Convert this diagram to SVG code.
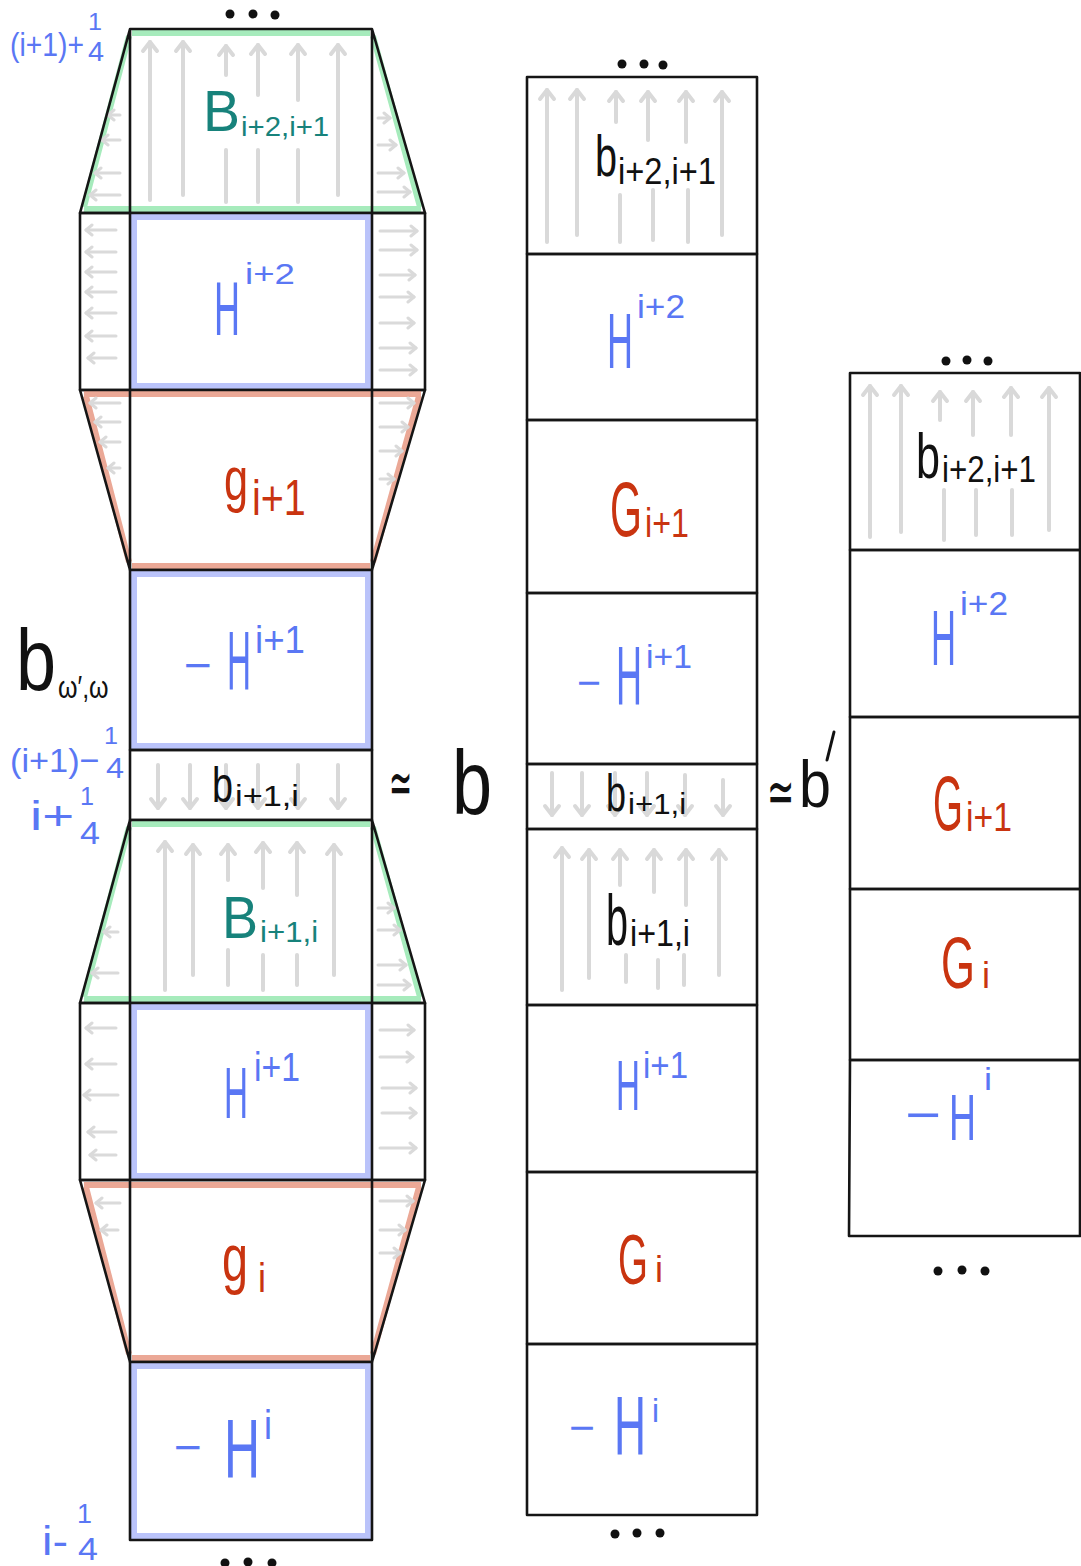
<svg xmlns="http://www.w3.org/2000/svg" width="1081" height="1566" viewBox="0 0 1081 1566">
<defs>
<style>
.ln{stroke:#151515;stroke-width:2.6;fill:none;stroke-linejoin:round}
.gr{stroke:#a6ebbc;stroke-width:6;fill:none}
.bl{stroke:#bac3fa;stroke-width:6;fill:none}
.rd{stroke:#eba896;stroke-width:6;fill:none}
.ar{stroke:#d9d9d9;stroke-width:4;stroke-linecap:round;fill:none;marker-end:url(#ah)}
.sg{stroke:#d9d9d9;stroke-width:4;stroke-linecap:round;fill:none}
.sa{stroke:#dadada;stroke-width:3;stroke-linecap:round;fill:none;marker-end:url(#sh)}
.t{font-family:"Liberation Sans","DejaVu Sans",sans-serif}
.dj{font-family:"DejaVu Sans",sans-serif}
.teal{fill:#17827b}
.blue{fill:#5a77f4}
.red{fill:#c93410}
.blk{fill:#111}
.dot{fill:#111}
</style>
<marker id="ah" markerUnits="userSpaceOnUse" markerWidth="24" markerHeight="24" viewBox="-12 -12 24 24" refX="0" refY="0" orient="auto">
<path d="M-9,-7 L0,0 L-9,7" stroke="#d9d9d9" stroke-width="4" fill="none" stroke-linecap="round" stroke-linejoin="round"/>
</marker>
<marker id="sh" markerUnits="userSpaceOnUse" markerWidth="16" markerHeight="16" viewBox="-8 -8 16 16" refX="0" refY="0" orient="auto">
<path d="M-6,-5 L0,0 L-6,5" stroke="#dadada" stroke-width="3" fill="none" stroke-linecap="round" stroke-linejoin="round"/>
</marker>
</defs>
<rect width="1081" height="1566" fill="#fff"/>

<!-- ===== LEFT COLUMN ===== -->
<g id="L-B-i2i1">
<path class="gr" d="M132,33 H370 M84,209 H421 M129,36 L84,207 M373,36 L420,207"/>
<path class="ar" d="M150,200 V42"/><path class="ar" d="M183,195 V42"/>
<path class="ar" d="M226,75 V46"/><path class="sg" d="M226,150 V202"/>
<path class="ar" d="M258,95 V45"/><path class="sg" d="M258,150 V202"/>
<path class="ar" d="M298,100 V45"/><path class="sg" d="M298,150 V202"/>
<path class="ar" d="M338,195 V45"/>
<path class="sa" d="M120,115 H108"/><path class="sa" d="M120,140 H102"/><path class="sa" d="M120,173 H95"/><path class="sa" d="M120,195 H90"/>
<path class="sa" d="M378,118 H390"/><path class="sa" d="M378,145 H396"/><path class="sa" d="M378,173 H404"/><path class="sa" d="M378,192 H410"/>
<path class="ln" d="M130,29 H372 L425,213 H80 Z M130,29 V213 M372,29 V213"/>
<text class="t teal" font-size="58" transform="translate(203,131) scale(0.956,1)">B</text>
<text class="t teal" font-size="28" transform="translate(241,136) scale(1.05,1)">i+2,i+1</text>
</g>

<g id="L-H-i2">
<path class="sa" d="M116,230 H86"/><path class="sa" d="M116,252 H86"/><path class="sa" d="M116,272 H86"/><path class="sa" d="M116,292 H86"/><path class="sa" d="M116,313 H86"/><path class="sa" d="M116,336 H86"/><path class="sa" d="M116,358 H88"/>
<path class="sa" d="M380,231 H417"/><path class="sa" d="M380,250 H417"/><path class="sa" d="M380,275 H415"/><path class="sa" d="M380,297 H414"/><path class="sa" d="M380,323 H414"/><path class="sa" d="M380,348 H416"/><path class="sa" d="M380,370 H416"/>
<rect class="bl" x="134" y="217" width="234" height="169"/>
<path class="ln" d="M80,213 H425 V390 H80 Z M130,213 V390 M372,213 V390"/>
<text class="t blue" font-size="76" transform="translate(214,335) scale(0.474,1)">H</text>
<text class="t blue" font-size="30" transform="translate(245,284) scale(1.22,1)">i+2</text>
</g>

<g id="L-g-i1">
<path class="rd" d="M84,394 H421 M132,566 H370 M86,396 L129,562 M419,396 L373,562"/>
<path class="sa" d="M120,403 H90"/><path class="sa" d="M120,422 H95"/><path class="sa" d="M120,442 H100"/><path class="sa" d="M120,468 H108"/>
<path class="sa" d="M380,403 H414"/><path class="sa" d="M380,427 H408"/><path class="sa" d="M380,451 H402"/><path class="sa" d="M380,479 H394"/>
<path class="ln" d="M80,390 H425 L372,570 H130 Z M130,390 V570 M372,390 V570"/>
<text class="t red" font-size="62" transform="translate(224,500) scale(0.70,1)">g</text>
<text class="t red" font-size="50" transform="translate(252,515) scale(0.79,1)">i+1</text>
</g>

<g id="L-mH-i1">
<rect class="bl" x="134" y="574" width="234" height="172"/>
<path class="ln" d="M130,570 H372 V750 H130 Z"/>
<text class="t blue" font-size="46" transform="translate(184,681) scale(1.04,1)">−</text>
<text class="t blue" font-size="84" transform="translate(227,690) scale(0.396,1)">H</text>
<text class="t blue" font-size="38" transform="translate(255,653) scale(0.965,1)">i+1</text>
</g>

<g id="L-b-i1i">
<path class="ar" d="M158,765 V808"/><path class="ar" d="M190,765 V808"/><path class="ar" d="M226,765 V808"/><path class="ar" d="M258,765 V808"/><path class="ar" d="M298,765 V808"/><path class="ar" d="M338,765 V808"/>
<path class="ln" d="M130,750 H372 V820 H130 Z"/>
<text class="t blk" font-size="50" transform="translate(212,802) scale(0.755,1)">b</text>
<text class="t blk" font-size="30" transform="translate(235,806) scale(1.145,1)">i+1,i</text>
</g>

<g id="L-B-i1i">
<path class="gr" d="M132,824 H370 M84,999 H421 M129,827 L84,997 M373,827 L420,997"/>
<path class="ar" d="M165,990 V842"/><path class="ar" d="M193,975 V845"/>
<path class="ar" d="M228,880 V845"/><path class="sg" d="M228,950 V985"/>
<path class="ar" d="M263,888 V843"/><path class="sg" d="M263,955 V990"/>
<path class="ar" d="M297,895 V843"/><path class="sg" d="M297,955 V985"/>
<path class="ar" d="M334,975 V845"/>
<path class="sa" d="M118,932 H104"/><path class="sa" d="M118,973 H92"/>
<path class="sa" d="M378,908 H394"/><path class="sa" d="M378,930 H400"/><path class="sa" d="M378,965 H406"/><path class="sa" d="M378,985 H410"/>
<path class="ln" d="M130,820 H372 L425,1003 H80 Z M130,820 V1003 M372,820 V1003"/>
<text class="t teal" font-size="60" transform="translate(222,938) scale(0.9,1)">B</text>
<text class="t teal" font-size="30" transform="translate(260,942) scale(1.04,1)">i+1,i</text>
</g>

<g id="L-H-i1">
<path class="sa" d="M116,1028 H86"/><path class="sa" d="M116,1064 H86"/><path class="sa" d="M118,1095 H84"/><path class="sa" d="M116,1132 H88"/><path class="sa" d="M116,1155 H90"/>
<path class="sa" d="M380,1030 H414"/><path class="sa" d="M380,1057 H413"/><path class="sa" d="M382,1088 H416"/><path class="sa" d="M382,1113 H416"/><path class="sa" d="M380,1148 H416"/>
<rect class="bl" x="134" y="1007" width="234" height="169"/>
<path class="ln" d="M80,1003 H425 V1180 H80 Z M130,1003 V1180 M372,1003 V1180"/>
<text class="t blue" font-size="72" transform="translate(224,1118) scale(0.462,1)">H</text>
<text class="t blue" font-size="40" transform="translate(254,1081) scale(0.844,1)">i+1</text>
</g>

<g id="L-g-i">
<path class="rd" d="M84,1185 H421 M132,1358 H370 M86,1187 L129,1354 M419,1187 L373,1354"/>
<path class="sa" d="M120,1203 H96"/><path class="sa" d="M118,1230 H101"/>
<path class="sa" d="M380,1201 H413"/><path class="sa" d="M380,1230 H405"/><path class="sa" d="M380,1253 H400"/>
<path class="ln" d="M80,1180 H425 L372,1362 H130 Z M130,1180 V1362 M372,1180 V1362"/>
<text class="t red" font-size="66" transform="translate(222,1281) scale(0.708,1)">g</text>
<text class="t red" font-size="40" transform="translate(258,1292) scale(0.9,1)">i</text>
</g>

<g id="L-mH-i">
<rect class="bl" x="134" y="1366" width="234" height="170"/>
<path class="ln" d="M130,1362 H372 V1540 H130 Z"/>
<text class="t blue" font-size="46" transform="translate(174,1463) scale(1.04,1)">−</text>
<text class="t blue" font-size="84" transform="translate(224,1478) scale(0.594,1)">H</text>
<text class="t blue" font-size="40" transform="translate(264,1439) scale(0.9,1)">i</text>
</g>

<g id="L-dots">
<circle class="dot" cx="230" cy="14" r="4.5"/><circle class="dot" cx="253" cy="14" r="4.5"/><circle class="dot" cx="275" cy="15" r="4.5"/>
<circle class="dot" cx="225" cy="1563" r="4.5"/><circle class="dot" cx="248" cy="1562" r="4.5"/><circle class="dot" cx="272" cy="1563" r="4.5"/>
</g>

<g id="L-labels">
<text class="t blue" font-size="34" transform="translate(10,56) scale(0.833,1)">(i+1)+</text>
<text class="t blue" font-size="24" transform="translate(88,30) scale(1.05,1)">1</text>
<text class="t blue" font-size="28" transform="translate(88,61) scale(1.03,1)">4</text>
<text class="t blk" font-size="88" transform="translate(16,690) scale(0.818,1)">b</text>
<text class="t blk" font-size="32" transform="translate(58,698) scale(0.78,1)">ω′,ω</text>
<text class="t blue" font-size="34" transform="translate(10,772) scale(1.01,1)">(i+1)−</text>
<text class="t blue" font-size="24" transform="translate(104,744) scale(1.05,1)">1</text>
<text class="t blue" font-size="30" transform="translate(106,778) scale(1.08,1)">4</text>
<text class="t blue" font-size="40" transform="translate(30,830) scale(1.365,1)">i+</text>
<text class="t blue" font-size="26" transform="translate(80,805) scale(0.97,1)">1</text>
<text class="t blue" font-size="32" transform="translate(80,844) scale(1.12,1)">4</text>
<text class="t blue" font-size="40" transform="translate(42,1555) scale(1.17,1)">i-</text>
<text class="t blue" font-size="28" transform="translate(77,1523) scale(0.96,1)">1</text>
<text class="t blue" font-size="32" transform="translate(78,1560) scale(1.12,1)">4</text>
<text class="dj blk" font-size="62" transform="translate(389,804) scale(0.45,1)">≃</text>
<text class="t blk" font-size="90" transform="translate(452,814) scale(0.8,1)">b</text>
</g>

<!-- ===== MIDDLE COLUMN ===== -->
<g id="M-b-i2i1">
<path class="ar" d="M547,242 V90"/><path class="ar" d="M577,235 V90"/>
<path class="ar" d="M616,122 V92"/><path class="sg" d="M620,195 V242"/>
<path class="ar" d="M648,140 V92"/><path class="sg" d="M653,190 V240"/>
<path class="ar" d="M686,142 V92"/><path class="sg" d="M688,190 V242"/>
<path class="ar" d="M722,235 V92"/>
<path class="ln" d="M527,77 H757 V254 H527 Z"/>
<text class="t blk" font-size="58" transform="translate(595,176) scale(0.683,1)">b</text>
<text class="t blk" font-size="36" transform="translate(618,184) scale(0.907,1)">i+2,i+1</text>
</g>
<g id="M-H-i2">
<path class="ln" d="M527,254 H757 V420 H527 Z"/>
<text class="t blue" font-size="78" transform="translate(607,368) scale(0.462,1)">H</text>
<text class="t blue" font-size="34" transform="translate(637,318) scale(1.037,1)">i+2</text>
</g>
<g id="M-G-i1">
<path class="ln" d="M527,420 H757 V593 H527 Z"/>
<text class="t red" font-size="78" transform="translate(610,536) scale(0.527,1)">G</text>
<text class="t red" font-size="40" transform="translate(645,537) scale(0.807,1)">i+1</text>
</g>
<g id="M-mH-i1">
<path class="ln" d="M527,593 H757 V764 H527 Z"/>
<text class="t blue" font-size="42" transform="translate(577,697) scale(0.98,1)">−</text>
<text class="t blue" font-size="84" transform="translate(616,705) scale(0.429,1)">H</text>
<text class="t blue" font-size="34" transform="translate(646,668) scale(0.993,1)">i+1</text>
</g>
<g id="M-b-i1i-s">
<path class="ar" d="M552,773 V815"/><path class="ar" d="M582,773 V815"/><path class="ar" d="M615,773 V815"/><path class="ar" d="M647,773 V815"/><path class="ar" d="M685,775 V815"/><path class="ar" d="M723,780 V815"/>
<path class="ln" d="M527,764 H757 V829 H527 Z"/>
<text class="t blk" font-size="52" transform="translate(606,811) scale(0.692,1)">b</text>
<text class="t blk" font-size="30" transform="translate(628,814) scale(1.04,1)">i+1,i</text>
</g>
<g id="M-b-i1i">
<path class="ar" d="M562,990 V848"/><path class="ar" d="M589,978 V850"/>
<path class="ar" d="M620,885 V850"/><path class="sg" d="M626,955 V982"/>
<path class="ar" d="M654,892 V850"/><path class="sg" d="M658,960 V988"/>
<path class="ar" d="M686,905 V850"/><path class="sg" d="M684,955 V985"/>
<path class="ar" d="M719,975 V850"/>
<path class="ln" d="M527,829 H757 V1005 H527 Z"/>
<text class="t blk" font-size="72" transform="translate(606,945) scale(0.55,1)">b</text>
<text class="t blk" font-size="36" transform="translate(630,946) scale(0.895,1)">i+1,i</text>
</g>
<g id="M-H-i1">
<path class="ln" d="M527,1005 H757 V1172 H527 Z"/>
<text class="t blue" font-size="70" transform="translate(616,1110) scale(0.475,1)">H</text>
<text class="t blue" font-size="36" transform="translate(643,1078) scale(0.918,1)">i+1</text>
</g>
<g id="M-G-i">
<path class="ln" d="M527,1172 H757 V1344 H527 Z"/>
<text class="t red" font-size="70" transform="translate(618,1284) scale(0.55,1)">G</text>
<text class="t red" font-size="36" transform="translate(655,1282)">i</text>
</g>
<g id="M-mH-i">
<path class="ln" d="M527,1344 H757 V1515 H527 Z"/>
<text class="t blue" font-size="42" transform="translate(569,1442) scale(1.06,1)">−</text>
<text class="t blue" font-size="84" transform="translate(614,1455) scale(0.528,1)">H</text>
<text class="t blue" font-size="34" transform="translate(652,1422) scale(0.93,1)">i</text>
</g>
<g id="M-dots">
<circle class="dot" cx="622" cy="64" r="4.5"/><circle class="dot" cx="644" cy="64" r="4.5"/><circle class="dot" cx="663" cy="65" r="4.5"/>
<circle class="dot" cx="615" cy="1534" r="4.5"/><circle class="dot" cx="637" cy="1533" r="4.5"/><circle class="dot" cx="660" cy="1533" r="4.5"/>
</g>
<g id="M-label">
<text class="dj blk" font-size="62" transform="translate(767,813) scale(0.53,1)">≃</text>
<text class="t blk" font-size="66" transform="translate(799,807) scale(0.87,1)">b</text>
<path d="M834,732 L827,760" stroke="#111" stroke-width="3" stroke-linecap="round"/>
</g>

<!-- ===== RIGHT COLUMN ===== -->
<g id="R-b-i2i1">
<path class="ar" d="M870,537 V386"/><path class="ar" d="M901,532 V386"/>
<path class="ar" d="M940,420 V392"/><path class="sg" d="M944,490 V540"/>
<path class="ar" d="M973,435 V392"/><path class="sg" d="M976,490 V535"/>
<path class="ar" d="M1011,435 V388"/><path class="sg" d="M1012,490 V535"/>
<path class="ar" d="M1049,530 V388"/>
<path class="ln" d="M850,373 H1080 V550 H850 Z"/>
<text class="t blk" font-size="62" transform="translate(916,478) scale(0.696,1)">b</text>
<text class="t blk" font-size="36" transform="translate(942,482) scale(0.87,1)">i+2,i+1</text>
</g>
<g id="R-H-i2">
<path class="ln" d="M850,550 H1080 V717 H850 Z"/>
<text class="t blue" font-size="77" transform="translate(931,665) scale(0.45,1)">H</text>
<text class="t blue" font-size="34" transform="translate(960,615) scale(1.037,1)">i+2</text>
</g>
<g id="R-G-i1">
<path class="ln" d="M850,717 H1080 V889 H850 Z"/>
<text class="t red" font-size="78" transform="translate(933,830) scale(0.494,1)">G</text>
<text class="t red" font-size="40" transform="translate(966,831) scale(0.844,1)">i+1</text>
</g>
<g id="R-G-i">
<path class="ln" d="M850,889 H1080 V1060 H850 Z"/>
<text class="t red" font-size="72" transform="translate(941,988) scale(0.607,1)">G</text>
<text class="t red" font-size="36" transform="translate(982,988)">i</text>
</g>
<g id="R-mH-i">
<path class="ln" d="M850,1060 H1080 V1236 H849 Z"/>
<text class="t blue" font-size="50" transform="translate(905,1132) scale(1.23,1)">−</text>
<text class="t blue" font-size="64" transform="translate(949,1140) scale(0.584,1)">H</text>
<text class="t blue" font-size="32" transform="translate(984,1090) scale(1.13,1)">i</text>
</g>
<g id="R-dots">
<circle class="dot" cx="946" cy="361" r="4.5"/><circle class="dot" cx="967" cy="360" r="4.5"/><circle class="dot" cx="988" cy="361" r="4.5"/>
<circle class="dot" cx="938" cy="1271" r="4.5"/><circle class="dot" cx="962" cy="1270" r="4.5"/><circle class="dot" cx="985" cy="1271" r="4.5"/>
</g>
<g id="connectors"></g>
</svg>
